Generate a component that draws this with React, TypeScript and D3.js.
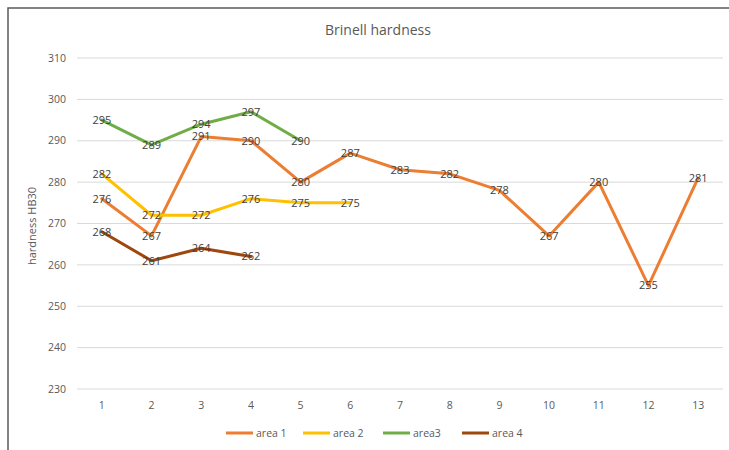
import React, { useRef, useEffect } from "react";
import * as d3 from "d3";

const categories = ["1", "2", "3", "4", "5", "6", "7", "8", "9", "10", "11", "12", "13"];
const area1 = [276, 267, 291, 290, 280, 287, 283, 282, 278, 267, 280, 255, 281];
const area2 = [282, 272, 272, 276, 275, 275];
const area3 = [295, 289, 294, 297, 290];
const area4 = [268, 261, 264, 262];
const yTicks = [230, 240, 250, 260, 270, 280, 290, 300, 310];

const seriesNames = ["area 1", "area 2", "area3", "area 4"];
const seriesColors = ["#ED7D31", "#FFC000", "#70AD47", "#9E480E"];

const W = 729;
const H = 450;
const FONT = "'Open Sans', 'Liberation Sans', sans-serif";

const App: React.FC = () => {
    const ref = useRef<SVGSVGElement>(null);

    useEffect(() => {
        if (!ref.current) return;
        document.body.style.margin = "0";
        const svg = d3.select(ref.current);
        svg.selectAll("*").remove();

        svg.append("rect").attr("width", W).attr("height", H).attr("fill", "#fff");
        // chart frame (only top and left edges are in view)
        svg.append("path")
            .attr("d", `M8,${H} V8 H${W}`)
            .attr("fill", "none")
            .attr("stroke", "#595959")
            .attr("stroke-width", 1.5);

        const x = d3.scaleBand<string>().domain(categories).range([77, 723]);
        const y = d3.scaleLinear().domain([230, 310]).range([389, 58]);
        const cx = (i: number) => (x(categories[i]) as number) + x.bandwidth() / 2;

        svg.append("text")
            .attr("x", 378).attr("y", 35)
            .attr("text-anchor", "middle")
            .attr("font-family", FONT)
            .attr("font-size", 14)
            .attr("fill", "#595959")
            .text("Brinell hardness");

        // gridlines
        svg.append("g").selectAll("line")
            .data(yTicks)
            .enter().append("line")
            .attr("x1", 77).attr("x2", 723)
            .attr("y1", d => y(d)).attr("y2", d => y(d))
            .attr("stroke", "#d9d9d9")
            .attr("stroke-width", 1);

        svg.append("g").selectAll("text")
            .data(yTicks)
            .enter().append("text")
            .attr("x", 66).attr("y", d => y(d))
            .attr("dy", "0.35em")
            .attr("text-anchor", "end")
            .attr("font-family", FONT)
            .attr("font-size", 10.5)
            .attr("fill", "#595959")
            .text(d => d);

        svg.append("g").selectAll("text")
            .data(categories)
            .enter().append("text")
            .attr("x", (d, i) => cx(i)).attr("y", 405)
            .attr("dy", "0.35em")
            .attr("text-anchor", "middle")
            .attr("font-family", FONT)
            .attr("font-size", 10.5)
            .attr("fill", "#595959")
            .text(d => d);

        svg.append("text")
            .attr("transform", `translate(36,226) rotate(-90)`)
            .attr("text-anchor", "middle")
            .attr("font-family", FONT)
            .attr("font-size", 11)
            .attr("fill", "#595959")
            .text("hardness HB30");

        const all = [area1, area2, area3, area4];
        const line = d3.line<number>()
            .x((d, i) => cx(i))
            .y(d => y(d));

        all.forEach((vals, s) => {
            svg.append("path")
                .attr("d", line(vals))
                .attr("fill", "none")
                .attr("stroke", seriesColors[s])
                .attr("stroke-width", 3)
                .attr("stroke-linejoin", "round")
                .attr("stroke-linecap", "round");
        });

        all.forEach(vals => {
            svg.append("g").selectAll("text")
                .data(vals)
                .enter().append("text")
                .attr("x", (d, i) => cx(i))
                .attr("y", d => y(d))
                .attr("dy", "0.35em")
                .attr("text-anchor", "middle")
                .attr("font-family", FONT)
                .attr("font-size", 11)
                .attr("fill", "#404040")
                .text(d => d);
        });

        // legend
        const legendX = [226, 303, 383, 462];
        const lg = svg.append("g");
        seriesNames.forEach((name, s) => {
            lg.append("line")
                .attr("x1", legendX[s]).attr("x2", legendX[s] + 27)
                .attr("y1", 433).attr("y2", 433)
                .attr("stroke", seriesColors[s])
                .attr("stroke-width", 3);
            lg.append("text")
                .attr("x", legendX[s] + 30).attr("y", 433)
                .attr("dy", "0.35em")
                .attr("font-family", FONT)
                .attr("font-size", 10.5)
                .attr("fill", "#595959")
                .text(name);
        });
    }, []);

    return <svg ref={ref} width={W} height={H} style={{ display: "block" }} />;
};

export default App;
